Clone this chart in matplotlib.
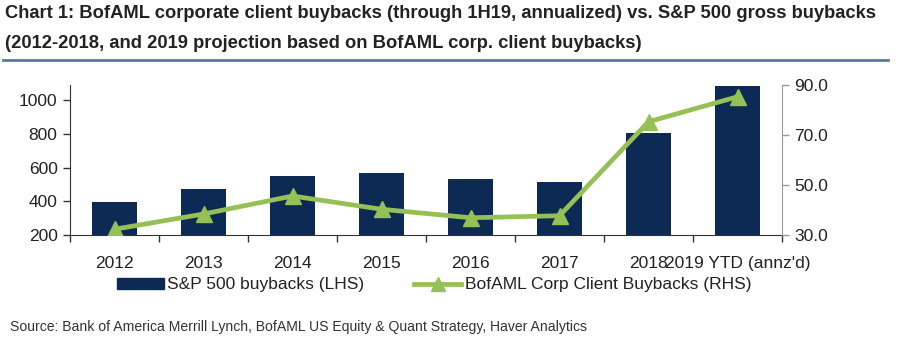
import matplotlib
matplotlib.use("Agg")
import matplotlib.pyplot as plt
from matplotlib.lines import Line2D
from matplotlib.patches import Patch
import numpy as np

categories = ["2012", "2013", "2014", "2015", "2016", "2017", "2018", "2019 YTD (annz'd)"]
sp500_buybacks = [395, 473, 550, 569, 534, 516, 806, 1085]
bofaml_client = [32.3, 38.4, 45.6, 40.3, 36.9, 37.7, 75.3, 85.3]
left_ticks = [200, 400, 600, 800, 1000]
right_ticks = [30.0, 50.0, 70.0, 90.0]

title1 = "Chart 1: BofAML corporate client buybacks (through 1H19, annualized) vs. S&P 500 gross buybacks"
title2 = "(2012-2018, and 2019 projection based on BofAML corp. client buybacks)"
source = "Source: Bank of America Merrill Lynch, BofAML US Equity & Quant Strategy, Haver Analytics"

BAR = "#0d2a55"
GREEN = "#95c055"
FONT = ["Liberation Sans", "DejaVu Sans"]
plt.rcParams['font.family'] = FONT

W, H = 901, 353
fig = plt.figure(figsize=(W / 100, H / 100), dpi=100)
ax = fig.add_axes([70 / W, 1 - 235 / H, (782 - 70) / W, 150 / H])
ax2 = ax.twinx()

x = np.arange(len(categories))
ax.bar(x, sp500_buybacks, width=0.5, color=BAR, zorder=2)
ax.set_ylim(200, 1090)
ax.set_xlim(-0.5, len(categories) - 0.5)
ax.set_yticks(left_ticks)
ax.set_yticklabels([str(v) for v in left_ticks])

ax2.plot(x, bofaml_client, color=GREEN, lw=3.4, marker="^", markersize=12,
         markerfacecolor=GREEN, markeredgecolor=GREEN, zorder=3)
ax2.set_ylim(30, 90)
ax2.set_yticks(right_ticks)
ax2.set_yticklabels([f"{v:.1f}" for v in right_ticks])

# x axis: labels at centers, tick marks at boundaries
ax.set_xticks(x)
ax.set_xticklabels(categories)
ax.tick_params(axis="x", which="major", length=0, pad=15, labelsize=12.5, colors="#222222")
ax.set_xticks(np.arange(-0.5, len(categories), 1.0), minor=True)
ax.tick_params(axis="x", which="minor", length=5, width=1, color="#333333", direction="out")

ax.tick_params(axis="y", length=5, width=1, color="#333333", labelsize=12.5, labelcolor="#222222", pad=4)
ax2.tick_params(axis="y", length=5, width=1, color="#999999", labelsize=12.5, labelcolor="#222222", pad=4)

for a in (ax, ax2):
    a.spines["top"].set_visible(False)
    a.set_facecolor("none")
ax.spines["right"].set_visible(False)
ax.spines["left"].set_color("#333333")
ax.spines["bottom"].set_color("#333333")
ax2.spines["left"].set_visible(False)
ax2.spines["bottom"].set_visible(False)
ax2.spines["right"].set_color("#999999")

# Legend
handles = [Patch(facecolor=BAR, edgecolor=BAR),
           Line2D([0], [0], color=GREEN, lw=3.4, marker="^", markersize=10, markerfacecolor=GREEN)]
labels = ["S&P 500 buybacks (LHS)", "BofAML Corp Client Buybacks (RHS)"]
fig.legend(handles, labels, loc="center", bbox_to_anchor=(434 / W, 1 - 285 / H), ncol=2,
           frameon=False, fontsize=12.5, handlelength=2.7, handleheight=0.6,
           handletextpad=0.2, columnspacing=2.9, labelcolor="#222222")

# Titles
fig.text(5 / W, 1 - 14 / H, title1, fontsize=13.2, fontweight="bold", color="#222222",
         ha="left", va="center")
fig.text(5 / W, 1 - 44 / H, title2, fontsize=13.2, fontweight="bold", color="#222222",
         ha="left", va="center")
fig.add_artist(Line2D([3 / W, 888 / W], [1 - 60 / H, 1 - 60 / H], color="#5a78aa", lw=2))

fig.text(10 / W, 1 - 327 / H, source, fontsize=10.1, color="#333333", ha="left", va="center")

fig.savefig("out.png", dpi=100)
